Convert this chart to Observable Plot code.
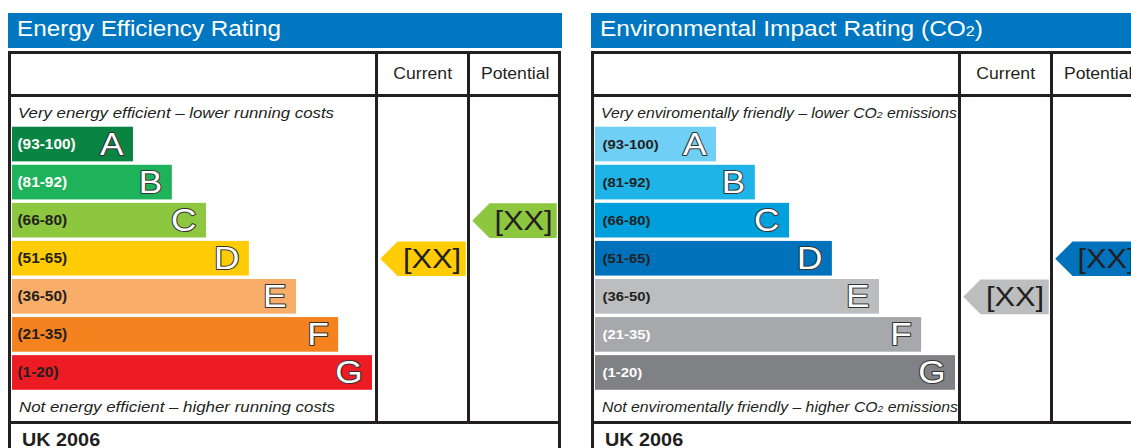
<!DOCTYPE html>
<html><head><meta charset="utf-8">
<script src="https://cdn.jsdelivr.net/npm/d3@7"></script>
<script src="https://cdn.jsdelivr.net/npm/@observablehq/plot@0.6"></script>
<style>
html,body{margin:0;padding:0;background:#fff;}
#root{position:relative;width:1131px;height:448px;overflow:hidden;font-family:"Liberation Sans",Arial,sans-serif;color:#231f20;}
.line{position:absolute;background:#231f20;}
.bar{position:absolute;background:#0077c0;}
.txt{position:absolute;white-space:nowrap;line-height:1;}
.sub{font-size:0.66em;}
.plot{position:absolute;}
</style></head><body><div id="root"></div>
<script>
// ---- data ----
const ratings = ["A","B","C","D","E","F","G"];
const bandLabels = ["(93-100)","(81-92)","(66-80)","(51-65)","(36-50)","(21-35)","(1-20)"];
const barLength = [33.6, 44.4, 53.9, 65.8, 78.9, 90.6, 100];
const energyColors = ["#0a8443","#1eb25a","#8dc63f","#ffcc05","#f8ad69","#f3821f","#ed1c24"];
const energyLightLabel = [true, true, false, false, false, false, false];
const envColors = ["#6fcff5","#1fb4e8","#00a0dc","#0072bc","#bbbdbf","#a6a8ab","#808184"];
const envLightLabel = [false, false, false, false, false, true, true];
const energyCurrent = "D", energyPotential = "C";
const envCurrent = "E", envPotential = "D";
const arrowLabel = "[XX]";
const columnHeaders = ["Current", "Potential"];
const footer = "UK 2006";

const panels = [
  {ox: 0, title: "Energy Efficiency Rating", titleW: 264,
   top: "Very energy efficient – lower running costs",
   bottom: "Not energy efficient – higher running costs",
   colors: energyColors, light: energyLightLabel, current: energyCurrent, potential: energyPotential, capW: 316, labelDx: 5, labelSize: 14},
  {ox: 583, title: "Environmental Impact Rating (CO<span class='sub'>2</span>)", titleW: 383,
   top: "Very enviromentally friendly – lower CO<span class='sub'>2</span> emissions",
   bottom: "Not enviromentally friendly – higher CO<span class='sub'>2</span> emissions",
   colors: envColors, light: envLightLabel, current: envCurrent, potential: envPotential, capW: 356, labelDx: 7, labelSize: 13.5}
];

const root = document.getElementById("root");
const INK = "#231f20";
const FONT = '"Liberation Sans", Arial, sans-serif';
const K = 1.1; // horizontal stretch of the reference

function box(cls, x, y, w, h) {
  const d = document.createElement("div");
  d.className = cls;
  Object.assign(d.style, {left: x + "px", top: y + "px", width: w + "px", height: h + "px"});
  root.appendChild(d);
  return d;
}
function addText(html, o) {
  const el = document.createElement("div");
  el.className = "txt";
  el.innerHTML = html;
  Object.assign(el.style, {fontSize: o.size + "px", fontWeight: o.weight || "normal", fontStyle: o.style || "normal",
    color: o.color || INK, top: (o.baseline - 0.8465 * o.size) + "px", left: "0px"});
  root.appendChild(el);
  const nat = el.getBoundingClientRect().width;
  const s = o.width ? o.width / nat : K;
  const mid = o.anchor === "middle";
  el.style.left = (mid ? o.x - nat / 2 : o.x) + "px";
  el.style.transformOrigin = mid ? "50% 50%" : "0 50%";
  el.style.transform = `scaleX(${s})`;
}
function stretch(svg) {
  svg.querySelectorAll("text").forEach(t => t.setAttribute("transform", (t.getAttribute("transform") || "") + ` scale(${K},1)`));
  return svg;
}

// shared row geometry
const BODY_TOP = 97, BODY_H = 324, MT = 28, MB = 29.5;
const yScale = {type: "band", domain: ratings, paddingInner: 0.09, paddingOuter: 0.045, round: false, axis: null};
const bw = d3.scaleBand(ratings, [MT, BODY_H - MB]).paddingInner(0.09).paddingOuter(0.045).bandwidth();

function place(svg, x, y) {
  svg.classList.add("plot");
  svg.style.left = x + "px";
  svg.style.top = y + "px";
  root.appendChild(svg);
}

function arrowPlot(rating, colors, w) {
  const data = [{rating, label: arrowLabel}];
  const hw = (w - 3.5) / 2, hh = bw / 2;
  const arrow = {draw(ctx) {
    ctx.moveTo(-hw, 0); ctx.lineTo(-hw + hh, -hh); ctx.lineTo(hw, -hh);
    ctx.lineTo(hw, hh); ctx.lineTo(-hw + hh, hh); ctx.closePath();
  }};
  return stretch(Plot.plot({
    width: w, height: BODY_H, marginTop: MT, marginBottom: MB, marginLeft: 0, marginRight: 0,
    y: yScale, color: {domain: ratings, range: colors},
    style: {fontFamily: FONT, background: "transparent", overflow: "visible"},
    marks: [
      Plot.dot(data, {y: "rating", fill: "rating", symbol: arrow, frameAnchor: "middle"}),
      Plot.text(data, {y: "rating", text: "label", frameAnchor: "middle", dx: 9, fontSize: 28, fill: INK})
    ]
  }));
}

for (const p of panels) {
  const o = p.ox;
  // title bar
  box("bar", 8 + o, 13, 554, 35);
  addText(p.title, {x: 17 + o, baseline: 37, size: 22, color: "#fff", width: p.titleW});
  // table frame
  box("line", 8 + o, 51, 3, 400);
  box("line", 558 + o, 51, 3, 400);
  box("line", 8 + o, 51, 553, 3);
  box("line", 8 + o, 94, 553, 3);
  box("line", 375 + o, 51, 3, 373);
  box("line", 467 + o, 51, 3, 373);
  box("line", 8 + o, 421, 553, 3);
  // headers
  addText(columnHeaders[0], {x: 422.5 + o, baseline: 79.5, size: 16, anchor: "middle"});
  addText(columnHeaders[1], {x: 515 + o, baseline: 79.5, size: 16, anchor: "middle"});
  addText(p.top, {x: 18 + o, baseline: 118, size: 15, style: "italic", width: p.capW});
  addText(p.bottom, {x: 19 + o, baseline: 412, size: 15, style: "italic", width: p.capW});
  addText(footer, {x: 22 + o, baseline: 446, size: 18, weight: "bold"});

  // bars
  const data = ratings.map((r, i) => ({rating: r, band: bandLabels[i], len: barLength[i], light: p.light[i]}));
  const bars = stretch(Plot.plot({
    width: 363, height: BODY_H, marginTop: MT, marginBottom: MB, marginLeft: 0, marginRight: 3,
    x: {domain: [0, 100], axis: null},
    y: yScale,
    color: {domain: ratings, range: p.colors},
    style: {fontFamily: FONT, background: "transparent", overflow: "visible"},
    marks: [
      Plot.barX(data, {x: "len", y: "rating", fill: "rating"}),
      Plot.text(data.filter(d => d.light), {x: 0, y: "rating", text: "band", textAnchor: "start", dx: p.labelDx, fontSize: p.labelSize, fontWeight: "bold", fill: "#fff"}),
      Plot.text(data.filter(d => !d.light), {x: 0, y: "rating", text: "band", textAnchor: "start", dx: p.labelDx, fontSize: p.labelSize, fontWeight: "bold", fill: INK}),
      Plot.text(data, {x: "len", y: "rating", text: "rating", textAnchor: "end", dx: -10, fontSize: 32, fill: "#fff", stroke: "#333", strokeWidth: 2, paintOrder: "stroke"})
    ]
  }));
  place(bars, 12 + o, BODY_TOP);
  place(arrowPlot(p.current, p.colors, 89), 378 + o, BODY_TOP);
  place(arrowPlot(p.potential, p.colors, 88), 470 + o, BODY_TOP);
}
</script></body></html>
